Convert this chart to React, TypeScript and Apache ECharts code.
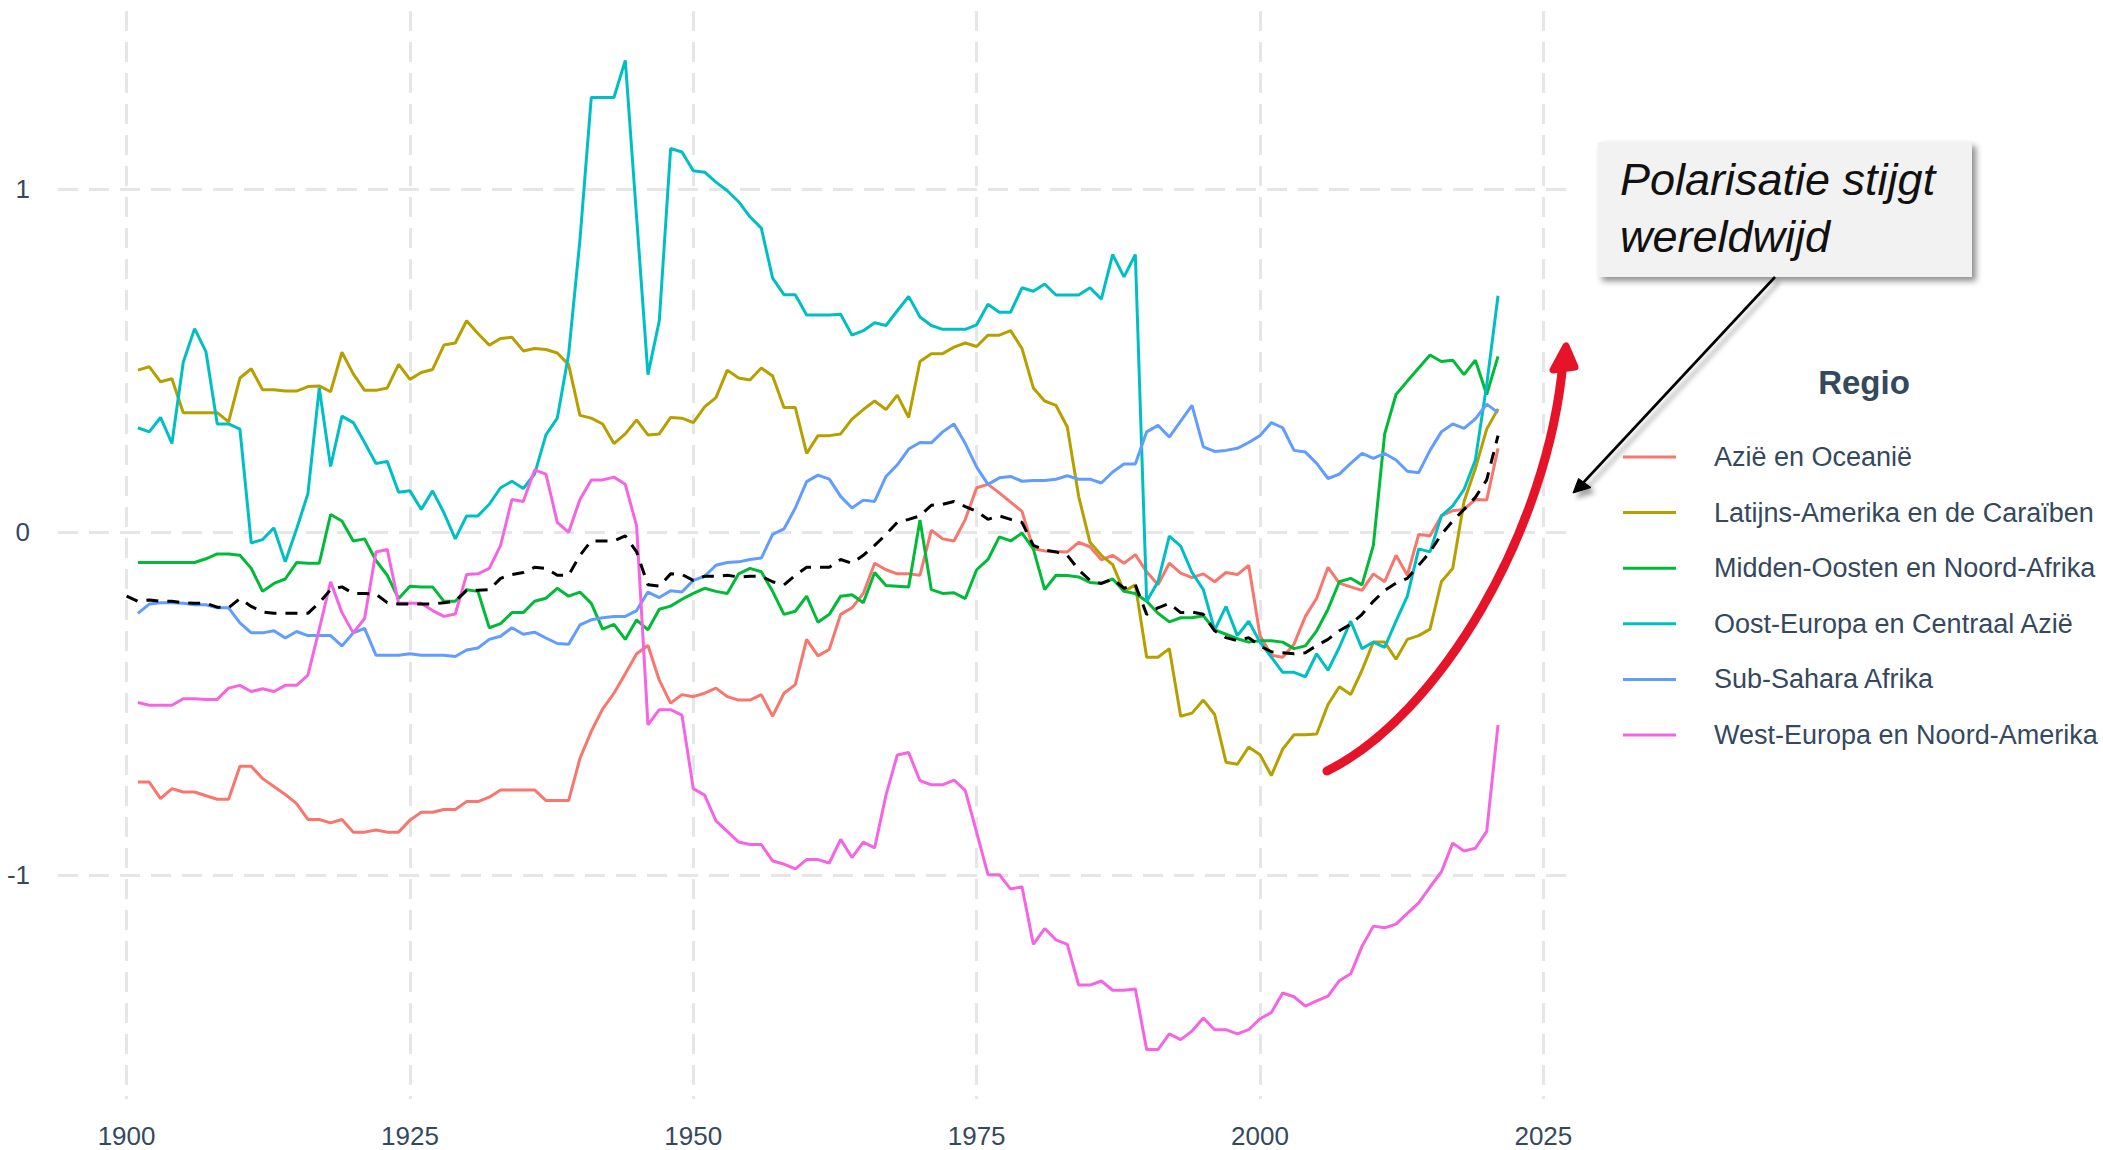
import React, { useEffect, useRef } from "react";
import * as echarts from "echarts";

// ---------- data ----------
const regions = [
  "Azië en Oceanië",
  "Latijns-Amerika en de Caraïben",
  "Midden-Oosten en Noord-Afrika",
  "Oost-Europa en Centraal Azië",
  "Sub-Sahara Afrika",
  "West-Europa en Noord-Amerika",
];
const regionColors = ["#F8766D", "#B79F00", "#00BA38", "#00BFC4", "#619CFF", "#F564E3"];

const firstYear = 1901;
const avgFirstYear = 1900;
const xTicks = [1900, 1925, 1950, 1975, 2000, 2025];
const yTicks = [-1, 0, 1];

// 1901 - 2021
const azie = [
  -0.728, -0.728, -0.776, -0.747, -0.757, -0.757, -0.768, -0.778, -0.778, -0.682,
  -0.682, -0.718, -0.741, -0.764, -0.791, -0.837, -0.837, -0.847, -0.837, -0.874,
  -0.874, -0.868, -0.874, -0.874, -0.839, -0.816, -0.816, -0.808, -0.808, -0.785,
  -0.785, -0.772, -0.751, -0.751, -0.751, -0.751, -0.782, -0.782, -0.782, -0.659,
  -0.58, -0.515, -0.469, -0.412, -0.354, -0.33, -0.431, -0.498, -0.473, -0.479,
  -0.469, -0.454, -0.479, -0.489, -0.489, -0.473, -0.536, -0.469, -0.444, -0.312,
  -0.36, -0.341, -0.239, -0.22, -0.178, -0.09, -0.109, -0.121, -0.121, -0.125,
  0.006, -0.019, -0.025, 0.038, 0.13, 0.14, 0.115, 0.088, 0.061, -0.048,
  -0.054, -0.056, -0.057, -0.029, -0.042, -0.08, -0.067, -0.09, -0.065, -0.115,
  -0.153, -0.09, -0.119, -0.132, -0.121, -0.144, -0.117, -0.123, -0.096, -0.301,
  -0.358, -0.364, -0.326, -0.245, -0.192, -0.102, -0.148, -0.159, -0.169, -0.121,
  -0.144, -0.067, -0.125, -0.006, -0.01, 0.048, 0.063, 0.067, 0.096, 0.094,
  0.245,
];
const latijnsAmerika = [
  0.473, 0.483, 0.439, 0.448, 0.349, 0.349, 0.349, 0.349, 0.322, 0.45,
  0.477, 0.416, 0.416, 0.412, 0.412, 0.425, 0.427, 0.41, 0.525, 0.462,
  0.414, 0.414, 0.421, 0.49, 0.446, 0.466, 0.475, 0.546, 0.552, 0.617,
  0.58, 0.546, 0.565, 0.569, 0.529, 0.536, 0.533, 0.523, 0.489, 0.341,
  0.333, 0.316, 0.259, 0.287, 0.328, 0.284, 0.287, 0.335, 0.333, 0.32,
  0.366, 0.393, 0.473, 0.45, 0.444, 0.479, 0.456, 0.364, 0.364, 0.23,
  0.282, 0.282, 0.287, 0.33, 0.358, 0.383, 0.358, 0.4, 0.335, 0.498,
  0.521, 0.521, 0.54, 0.552, 0.542, 0.575, 0.575, 0.588, 0.536, 0.421,
  0.383, 0.37, 0.307, 0.105, -0.029, -0.067, -0.094, -0.172, -0.153, -0.364,
  -0.364, -0.339, -0.536, -0.527, -0.489, -0.531, -0.67, -0.676, -0.626, -0.648,
  -0.709, -0.632, -0.59, -0.59, -0.588, -0.502, -0.45, -0.473, -0.402, -0.32,
  -0.32, -0.37, -0.312, -0.301, -0.282, -0.144, -0.105, 0.09, 0.186, 0.301,
  0.36,
];
const middenOosten = [
  -0.088, -0.088, -0.088, -0.088, -0.088, -0.088, -0.077, -0.063, -0.063, -0.067,
  -0.105, -0.172, -0.149, -0.136, -0.088, -0.09, -0.09, 0.052, 0.033, -0.025,
  -0.019, -0.082, -0.125, -0.193, -0.157, -0.159, -0.159, -0.201, -0.201, -0.167,
  -0.172, -0.278, -0.266, -0.234, -0.234, -0.201, -0.192, -0.163, -0.186, -0.174,
  -0.207, -0.282, -0.268, -0.312, -0.255, -0.284, -0.224, -0.215, -0.195, -0.178,
  -0.163, -0.172, -0.178, -0.121, -0.105, -0.115, -0.172, -0.239, -0.23, -0.186,
  -0.262, -0.239, -0.186, -0.182, -0.205, -0.117, -0.155, -0.157, -0.159, 0.036,
  -0.167, -0.178, -0.176, -0.193, -0.109, -0.079, -0.013, -0.025, -0.002, -0.048,
  -0.167, -0.125, -0.126, -0.13, -0.146, -0.149, -0.136, -0.172, -0.178, -0.201,
  -0.236, -0.261, -0.249, -0.249, -0.243, -0.284, -0.297, -0.31, -0.32, -0.316,
  -0.316, -0.32, -0.339, -0.331, -0.287, -0.224, -0.144, -0.134, -0.153, -0.038,
  0.287, 0.402, 0.441, 0.479, 0.517, 0.498, 0.502, 0.46, 0.502, 0.402,
  0.513,
];
const oostEuropa = [
  0.305, 0.293, 0.335, 0.259, 0.496, 0.594, 0.527, 0.316, 0.316, 0.301,
  -0.031, -0.021, 0.013, -0.086, 0.01, 0.113, 0.421, 0.192, 0.339, 0.32,
  0.262, 0.201, 0.207, 0.117, 0.121, 0.067, 0.121, 0.057, -0.019, 0.048,
  0.048, 0.082, 0.13, 0.149, 0.128, 0.17, 0.284, 0.333, 0.519, 0.853,
  1.268, 1.268, 1.268, 1.376, 0.918, 0.46, 0.617, 1.119, 1.109, 1.054,
  1.05, 1.021, 0.996, 0.964, 0.92, 0.887, 0.741, 0.693, 0.693, 0.634,
  0.634, 0.634, 0.636, 0.575, 0.588, 0.611, 0.603, 0.646, 0.688, 0.628,
  0.603, 0.592, 0.592, 0.592, 0.605, 0.665, 0.642, 0.642, 0.713, 0.703,
  0.724, 0.692, 0.692, 0.692, 0.713, 0.68, 0.81, 0.745, 0.81, -0.201,
  -0.144, -0.011, -0.04, -0.117, -0.167, -0.285, -0.216, -0.301, -0.259, -0.32,
  -0.364, -0.408, -0.408, -0.421, -0.354, -0.402, -0.335, -0.259, -0.339, -0.32,
  -0.335, -0.259, -0.186, -0.048, -0.057, 0.048, 0.077, 0.125, 0.211, 0.43,
  0.69,
];
const subSahara = [
  -0.236, -0.209, -0.205, -0.205, -0.207, -0.211, -0.211, -0.22, -0.22, -0.264,
  -0.293, -0.293, -0.287, -0.308, -0.289, -0.301, -0.301, -0.301, -0.331, -0.293,
  -0.28, -0.358, -0.358, -0.358, -0.354, -0.358, -0.358, -0.358, -0.362, -0.343,
  -0.337, -0.312, -0.303, -0.278, -0.297, -0.291, -0.308, -0.324, -0.326, -0.27,
  -0.255, -0.249, -0.245, -0.245, -0.228, -0.174, -0.19, -0.17, -0.174, -0.14,
  -0.128, -0.096, -0.088, -0.086, -0.079, -0.075, -0.006, 0.01, 0.071, 0.148,
  0.167, 0.155, 0.105, 0.071, 0.094, 0.09, 0.163, 0.197, 0.243, 0.262,
  0.261, 0.293, 0.316, 0.259, 0.19, 0.14, 0.159, 0.163, 0.149, 0.151,
  0.151, 0.155, 0.165, 0.155, 0.155, 0.144, 0.176, 0.199, 0.199, 0.293,
  0.312, 0.278, 0.324, 0.37, 0.249, 0.236, 0.239, 0.245, 0.262, 0.282,
  0.32, 0.305, 0.239, 0.234, 0.201, 0.157, 0.17, 0.201, 0.23, 0.216,
  0.23, 0.211, 0.178, 0.174, 0.239, 0.293, 0.316, 0.303, 0.331, 0.374,
  0.349,
];
const westEuropa = [
  -0.496, -0.504, -0.504, -0.504, -0.485, -0.485, -0.487, -0.487, -0.454, -0.446,
  -0.464, -0.456, -0.464, -0.446, -0.446, -0.416, -0.282, -0.144, -0.234, -0.293,
  -0.251, -0.057, -0.05, -0.207, -0.207, -0.207, -0.228, -0.245, -0.238, -0.123,
  -0.121, -0.105, -0.038, 0.096, 0.09, 0.182, 0.17, 0.029, 0.0, 0.096,
  0.153, 0.153, 0.161, 0.14, 0.019, -0.561, -0.517, -0.517, -0.533, -0.747,
  -0.766, -0.841, -0.872, -0.903, -0.91, -0.91, -0.958, -0.967, -0.981, -0.954,
  -0.954, -0.964, -0.895, -0.948, -0.903, -0.92, -0.766, -0.649, -0.642, -0.724,
  -0.736, -0.736, -0.722, -0.753, -0.875, -0.998, -0.998, -1.04, -1.033, -1.201,
  -1.155, -1.188, -1.201, -1.32, -1.32, -1.308, -1.335, -1.335, -1.331, -1.508,
  -1.508, -1.462, -1.479, -1.454, -1.416, -1.45, -1.45, -1.462, -1.45, -1.418,
  -1.4, -1.343, -1.354, -1.381, -1.366, -1.352, -1.307, -1.287, -1.207, -1.148,
  -1.153, -1.142, -1.111, -1.08, -1.034, -0.99, -0.906, -0.929, -0.921, -0.872,
  -0.561,
];
// 1900 - 2021
const wereldGemiddelde = [
  -0.186,
  -0.201, -0.197, -0.201, -0.201, -0.205, -0.207, -0.207, -0.218, -0.22, -0.193,
  -0.216, -0.232, -0.236, -0.236, -0.236, -0.236, -0.205, -0.167, -0.159, -0.178,
  -0.178, -0.18, -0.205, -0.209, -0.209, -0.209, -0.209, -0.205, -0.201, -0.169,
  -0.169, -0.167, -0.134, -0.123, -0.117, -0.102, -0.105, -0.125, -0.125, -0.067,
  -0.025, -0.025, -0.025, -0.01, -0.057, -0.153, -0.157, -0.121, -0.123, -0.14,
  -0.128, -0.128, -0.125, -0.13, -0.128, -0.128, -0.144, -0.153, -0.125, -0.102,
  -0.102, -0.102, -0.079, -0.09, -0.067, -0.038, -0.006, 0.029, 0.038, 0.048,
  0.079, 0.082, 0.09, 0.075, 0.061, 0.038, 0.048, 0.038, 0.029, -0.038,
  -0.052, -0.057, -0.067, -0.109, -0.14, -0.149, -0.136, -0.163, -0.153, -0.239,
  -0.22, -0.207, -0.234, -0.232, -0.239, -0.287, -0.307, -0.316, -0.307, -0.331,
  -0.348, -0.351, -0.354, -0.351, -0.33, -0.312, -0.287, -0.268, -0.239, -0.201,
  -0.169, -0.148, -0.134, -0.096, -0.057, -0.006, 0.033, 0.067, 0.102, 0.153,
  0.282,
];

const regionValues = [azie, latijnsAmerika, middenOosten, oostEuropa, subSahara, westEuropa];

// ---------- styling ----------
const W = 2103;
const H = 1150;
const FONT = '"Liberation Sans", Arial, sans-serif';
const TEXT_COLOR = "#34495E";
const GRID_COLOR = "#E6E6E6";
const RED = "#E61428";

function pairs(values: number[], start: number) {
  return values.map((v, i) => [start + i, v]);
}

export default function App() {
  const ref = useRef<HTMLDivElement | null>(null);

  useEffect(() => {
    if (!ref.current) return;
    const chart = echarts.init(ref.current, null, { renderer: "svg", width: W, height: H });

    const lineSeries: any[] = regions.map((name, i) => ({
      name,
      type: "line",
      data: pairs(regionValues[i], firstYear),
      showSymbol: false,
      symbol: "none",
      lineStyle: { width: 3, color: regionColors[i] },
      itemStyle: { color: regionColors[i] },
      emphasis: { disabled: true },
      z: 2,
    }));
    lineSeries.push({
      name: "Wereldgemiddelde",
      type: "line",
      data: pairs(wereldGemiddelde, avgFirstYear),
      showSymbol: false,
      symbol: "none",
      lineStyle: { width: 3, color: "#000000", type: [12, 9] },
      itemStyle: { color: "#000000" },
      emphasis: { disabled: true },
      z: 3,
    });

    const option: any = {
      animation: false,
      backgroundColor: "#ffffff",
      grid: {
        left: 58,
        right: W - 1566.6,
        top: 11,
        bottom: H - 1099,
        containLabel: false,
        outerBoundsMode: "none",
      },
      xAxis: {
        type: "value",
        min: 1893.95,
        max: 2027.05,
        axisLine: { show: false },
        axisTick: { show: false, customValues: xTicks },
        axisLabel: {
          customValues: xTicks,
          formatter: (v: number) => String(v),
          fontSize: 26,
          fontFamily: FONT,
          color: TEXT_COLOR,
          margin: 24,
        },
        splitLine: {
          show: true,
          lineStyle: { color: GRID_COLOR, width: 3, type: [20, 11] },
        },
      },
      yAxis: {
        type: "value",
        min: -1.652,
        max: 1.52,
        axisLine: { show: false },
        axisTick: { show: false, customValues: yTicks },
        axisLabel: {
          customValues: yTicks,
          formatter: (v: number) => String(v),
          fontSize: 26,
          fontFamily: FONT,
          color: TEXT_COLOR,
          margin: 28,
        },
        splitLine: {
          show: true,
          lineStyle: { color: GRID_COLOR, width: 3, type: [20, 11] },
        },
      },
      legend: {
        data: regions,
        orient: "vertical",
        left: 1618,
        top: 437,
        itemWidth: 53,
        itemHeight: 3,
        itemGap: 25.6,
        icon: "rect",
        selectedMode: false,
        textStyle: {
          fontSize: 27,
          fontFamily: FONT,
          color: TEXT_COLOR,
          lineHeight: 30,
          padding: [0, 0, 0, 33],
        },
      },
      graphic: [
        {
          type: "text",
          z: 100,
          style: {
            text: "Regio",
            x: 1864,
            y: 382,
            fontSize: 33,
            fontWeight: "bold",
            fontFamily: FONT,
            fill: TEXT_COLOR,
            textAlign: "center",
            align: "center",
            textVerticalAlign: "middle",
            verticalAlign: "middle",
          },
        },
        {
          type: "rect",
          z: 100,
          shape: { x: 1598, y: 142, width: 374, height: 135 },
          style: {
            fill: "#F2F2F2",
            shadowColor: "rgba(0,0,0,0.45)",
            shadowBlur: 6,
            shadowOffsetX: 4,
            shadowOffsetY: 4,
          },
        },
        {
          type: "text",
          z: 101,
          style: {
            text: "Polarisatie stijgt",
            x: 1620,
            y: 179.5,
            fontSize: 45,
            fontStyle: "italic",
            fontFamily: FONT,
            fill: "#111111",
            textAlign: "left",
            align: "left",
            textVerticalAlign: "middle",
            verticalAlign: "middle",
          },
        },
        {
          type: "text",
          z: 101,
          style: {
            text: "wereldwijd",
            x: 1620,
            y: 236,
            fontSize: 45,
            fontStyle: "italic",
            fontFamily: FONT,
            fill: "#111111",
            textAlign: "left",
            align: "left",
            textVerticalAlign: "middle",
            verticalAlign: "middle",
          },
        },
        {
          type: "line",
          z: 100,
          shape: { x1: 1775, y1: 277, x2: 1582, y2: 484 },
          style: {
            stroke: "#000000",
            lineWidth: 2.6,
            shadowColor: "rgba(0,0,0,0.35)",
            shadowBlur: 5,
            shadowOffsetX: 4,
            shadowOffsetY: 5,
          },
        },
        {
          type: "polygon",
          z: 100,
          shape: { points: [[1573, 493], [1578.5, 478.5], [1591, 487.5]] },
          style: {
            fill: "#000000",
            stroke: "#000000",
            lineWidth: 1,
            shadowColor: "rgba(0,0,0,0.35)",
            shadowBlur: 5,
            shadowOffsetX: 4,
            shadowOffsetY: 5,
          },
        },
        {
          type: "bezierCurve",
          z: 100,
          shape: { x1: 1327, y1: 771, cpx1: 1440, cpy1: 715, cpx2: 1548, cpy2: 530, x2: 1563, y2: 362 },
          style: { stroke: RED, fill: "none", lineWidth: 9, lineCap: "round" },
        },
        {
          type: "polygon",
          z: 100,
          shape: { points: [[1566, 346], [1553, 370], [1575, 367]] },
          style: { fill: RED, stroke: RED, lineWidth: 7, lineJoin: "round" },
        },
      ],
      series: lineSeries,
    };

    chart.setOption(option);
    return () => {
      chart.dispose();
    };
  }, []);

  return (
    <div
      ref={ref}
      style={{ position: "fixed", left: 0, top: 0, width: W, height: H, background: "#fff" }}
    />
  );
}
